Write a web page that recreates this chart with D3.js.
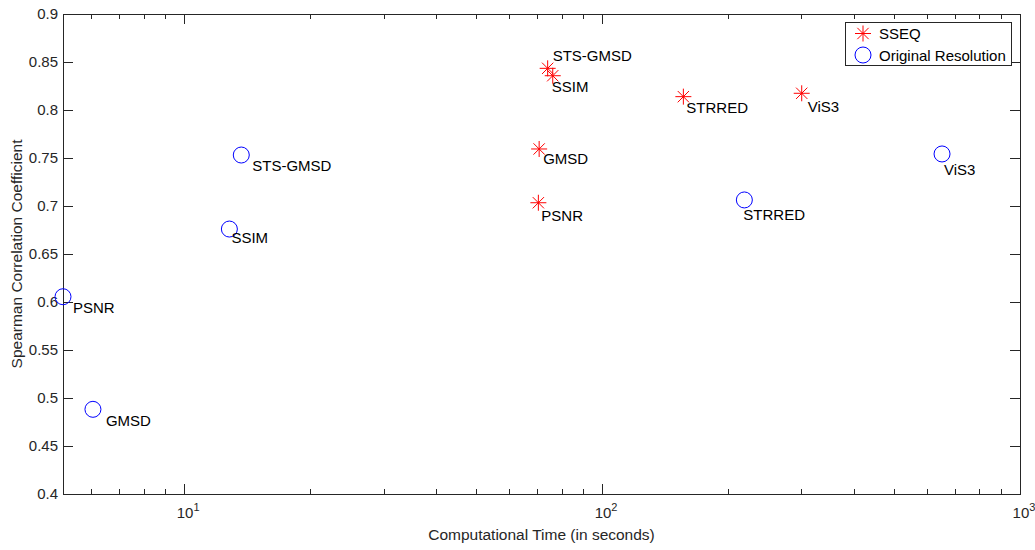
<!DOCTYPE html>
<html>
<head>
<meta charset="utf-8">
<script src="https://cdn.jsdelivr.net/npm/d3@7/dist/d3.min.js"></script>
<style>
  html, body { margin: 0; padding: 0; background: #fff; }
  svg { display: block; font-family: "Liberation Sans", Arial, Helvetica, sans-serif; }
</style>
</head>
<body>
<svg id="chart" width="1035" height="550"></svg>
<script>
// ---- data ----
const methods   = ["PSNR", "SSIM", "GMSD", "STS-GMSD", "STRRED", "ViS3"];
const sseqTime  = [70.4, 76.2, 70.7, 74.1, 156.5, 300.4];
const sseqSrocc = [0.7034, 0.8357, 0.7594, 0.8434, 0.8139, 0.8174];
const origTime  = [5.13, 12.83, 6.05, 13.7, 219, 650.8];
const origSrocc = [0.6055, 0.676, 0.4882, 0.7531, 0.7063, 0.7542];
const yTicks    = [0.4, 0.45, 0.5, 0.55, 0.6, 0.65, 0.7, 0.75, 0.8, 0.85, 0.9];
const yTickLabels = ["0.4", "0.45", "0.5", "0.55", "0.6", "0.65", "0.7", "0.75", "0.8", "0.85", "0.9"];
const xMajorTicks = [10, 100, 1000];
const xMajorExp   = ["1", "2", "3"];
const seriesNames = ["SSEQ", "Original Resolution"];
const xDomain = [5.13, 1000];
const yDomain = [0.4, 0.9];

// ---- layout ----
const svg = d3.select("#chart");
const L = 63, R = 1020, T = 14, B = 494;
const x = d3.scaleLog().domain(xDomain).range([L, R]);
const y = d3.scaleLinear().domain(yDomain).range([B, T]);
const axisColor = "#262626";

// minor ticks for log axis
const xMinor = [];
for (let d = 1; d <= 100; d *= 10) {
  for (let k = 2; k <= 9; k++) {
    const v = d * k;
    if (v > xDomain[0] && v < xDomain[1]) xMinor.push(v);
  }
}

// label offsets (pixels from marker centre: dx, baseline dy)
const sseqLabelOff = {
  "PSNR": [3, 18], "SSIM": [-1, 16], "GMSD": [4, 15],
  "STS-GMSD": [5, -7], "STRRED": [3, 16], "ViS3": [6, 19]
};
const origLabelOff = {
  "PSNR": [10, 16], "SSIM": [2, 14], "GMSD": [13, 17],
  "STS-GMSD": [11, 16], "STRRED": [-1, 20], "ViS3": [2, 21]
};

// ---- axes box ----
const g = svg.append("g");
g.append("rect").attr("x", L).attr("y", T).attr("width", R - L).attr("height", B - T)
  .attr("fill", "none").attr("stroke", axisColor).attr("stroke-width", 1)
  .attr("shape-rendering", "crispEdges");

const majorLen = 10, minorLen = 5;
const xt = g.append("g").attr("stroke", axisColor).attr("stroke-width", 1).attr("shape-rendering", "crispEdges");
xMinor.forEach(v => {
  const px = Math.round(x(v)) + 0.5;
  xt.append("line").attr("x1", px).attr("x2", px).attr("y1", B).attr("y2", B - minorLen);
  xt.append("line").attr("x1", px).attr("x2", px).attr("y1", T).attr("y2", T + minorLen);
});
xMajorTicks.forEach(v => {
  const px = Math.round(x(v)) + 0.5;
  xt.append("line").attr("x1", px).attr("x2", px).attr("y1", B).attr("y2", B - majorLen);
  xt.append("line").attr("x1", px).attr("x2", px).attr("y1", T).attr("y2", T + majorLen);
});
yTicks.forEach(v => {
  const py = Math.round(y(v)) + 0.5;
  xt.append("line").attr("x1", L).attr("x2", L + majorLen).attr("y1", py).attr("y2", py);
  xt.append("line").attr("x1", R).attr("x2", R - majorLen).attr("y1", py).attr("y2", py);
});

// y tick labels
g.append("g").selectAll("text").data(yTicks).join("text")
  .attr("x", L - 5).attr("y", d => y(d)).attr("dy", "0.36em")
  .attr("text-anchor", "end").attr("font-size", 15).attr("fill", axisColor)
  .text((d, i) => yTickLabels[i]);

// x tick labels (10^n)
const xl = g.append("g").selectAll("text").data(xMajorTicks).join("text")
  .attr("y", 518).attr("font-size", 15).attr("fill", axisColor)
  .attr("text-anchor", "middle");
xl.each(function(d, i) {
  const t = d3.select(this);
  t.attr("x", x(d) + 4);
  t.append("tspan").text("10");
  t.append("tspan").attr("font-size", 11).attr("dy", -7).text(xMajorExp[i]);
});

// axis titles
svg.append("text").attr("x", (L + R) / 2).attr("y", 540)
  .attr("text-anchor", "middle").attr("font-size", 15.5).attr("fill", axisColor)
  .text("Computational Time (in seconds)");
svg.append("text").attr("transform", `translate(22,${(T + B) / 2}) rotate(-90)`)
  .attr("text-anchor", "middle").attr("font-size", 15.5).attr("fill", axisColor)
  .text("Spearman Correlation Coefficient");

// ---- markers ----
const starR = 8, circR = 8;
function starPath(r) {
  const dd = r * Math.SQRT1_2;
  return `M${-r},0L${r},0M0,${-r}L0,${r}M${-dd},${-dd}L${dd},${dd}M${-dd},${dd}L${dd},${-dd}`;
}
const sseqPts = methods.map((m, i) => ({ m, t: sseqTime[i], s: sseqSrocc[i] }));
const origPts = methods.map((m, i) => ({ m, t: origTime[i], s: origSrocc[i] }));

svg.append("g").selectAll("path").data(sseqPts).join("path")
  .attr("transform", d => `translate(${x(d.t)},${y(d.s)})`)
  .attr("d", starPath(starR)).attr("fill", "none").attr("stroke", "#ff0000").attr("stroke-width", 1);

svg.append("g").selectAll("circle").data(origPts).join("circle")
  .attr("cx", d => x(d.t)).attr("cy", d => y(d.s)).attr("r", circR)
  .attr("fill", "none").attr("stroke", "#0000ff").attr("stroke-width", 1);

// ---- point labels ----
svg.append("g").selectAll("text").data(sseqPts).join("text")
  .attr("x", d => x(d.t) + sseqLabelOff[d.m][0]).attr("y", d => y(d.s) + sseqLabelOff[d.m][1])
  .attr("font-size", 15).attr("fill", "#000").text(d => d.m);
svg.append("g").selectAll("text").data(origPts).join("text")
  .attr("x", d => x(d.t) + origLabelOff[d.m][0]).attr("y", d => y(d.s) + origLabelOff[d.m][1])
  .attr("font-size", 15).attr("fill", "#000").text(d => d.m);

// ---- legend ----
const lg = svg.append("g");
lg.append("rect").attr("x", 845.5).attr("y", 22.5).attr("width", 166).attr("height", 43)
  .attr("fill", "#fff").attr("stroke", axisColor).attr("stroke-width", 1);
lg.append("path").attr("transform", "translate(863,33.5)").attr("d", starPath(starR))
  .attr("fill", "none").attr("stroke", "#ff0000").attr("stroke-width", 1);
lg.append("circle").attr("cx", 863).attr("cy", 55).attr("r", circR)
  .attr("fill", "none").attr("stroke", "#0000ff").attr("stroke-width", 1);
lg.append("text").attr("x", 879).attr("y", 39).attr("font-size", 15).attr("fill", "#000").text(seriesNames[0]);
lg.append("text").attr("x", 879).attr("y", 60.5).attr("font-size", 15).attr("fill", "#000").text(seriesNames[1]);
</script>
</body>
</html>
